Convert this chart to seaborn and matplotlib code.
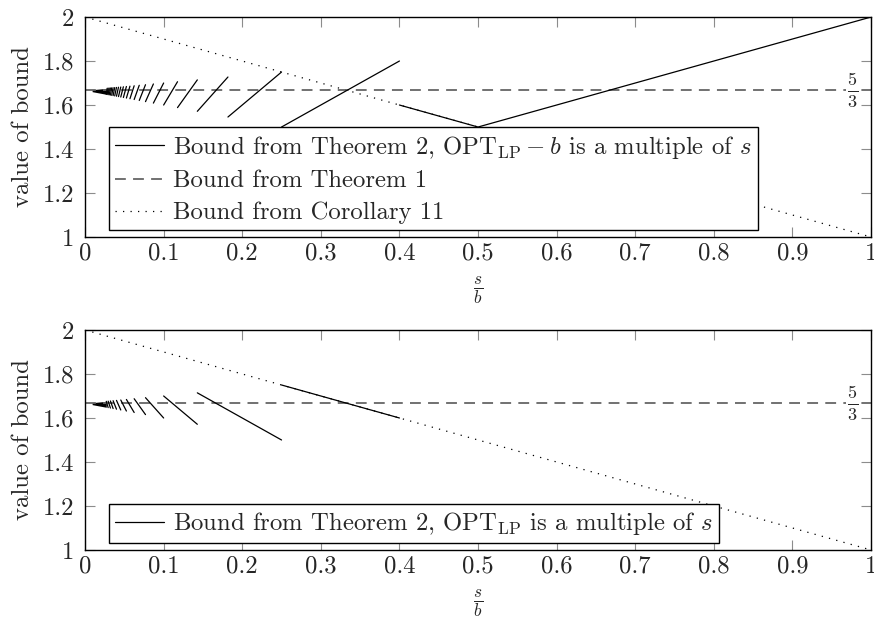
import matplotlib
matplotlib.use('Agg')
import matplotlib.pyplot as plt
import seaborn as sns
import pandas as pd
from matplotlib.lines import Line2D
from matplotlib.ticker import FixedLocator, FixedFormatter

# 軸の目盛り
x_ticks = [0, 0.1, 0.2, 0.3, 0.4, 0.5, 0.6, 0.7, 0.8, 0.9, 1]
x_tick_labels = ['0', '0.1', '0.2', '0.3', '0.4', '0.5', '0.6', '0.7', '0.8', '0.9', '1']
y_ticks = [1, 1.2, 1.4, 1.6, 1.8, 2]
y_tick_labels = ['1', '1.2', '1.4', '1.6', '1.8', '2']

# Theorem 1 (水平線) と Corollary 11 (対角線)
thm1_x = [0, 1]
thm1_y = [1.6667, 1.6667]
cor11_x = [0, 1]
cor11_y = [2, 1]

# 上段: OPT_LP - b が s の倍数
top_first_x = [0.4, 0.5, 1.0]
top_first_y = [1.6, 1.5, 2.0]
top_x_lo = [0.25, 0.18182, 0.14286, 0.11765, 0.1, 0.08696, 0.07692, 0.06897, 0.0625,
            0.05714, 0.05263, 0.04878, 0.04545, 0.04255, 0.04, 0.03774, 0.03571, 0.0339,
            0.03226, 0.03077, 0.02941, 0.02817, 0.02703]
top_x_hi = [0.4, 0.25, 0.18182, 0.14286, 0.11765, 0.1, 0.08696, 0.07692, 0.06897,
            0.0625, 0.05714, 0.05263, 0.04878, 0.04545, 0.04255, 0.04, 0.03774, 0.03571,
            0.0339, 0.03226, 0.03077, 0.02941, 0.02817]
top_y_lo = [1.5, 1.5455, 1.5714, 1.5882, 1.6, 1.6087, 1.6154, 1.6207, 1.625, 1.6286,
            1.6316, 1.6341, 1.6364, 1.6383, 1.64, 1.6415, 1.6429, 1.6441, 1.6452, 1.6462,
            1.6471, 1.6479, 1.6486]
top_y_hi = [1.8, 1.75, 1.7273, 1.7143, 1.7059, 1.7, 1.6957, 1.6923, 1.6897, 1.6875,
            1.6857, 1.6842, 1.6829, 1.6818, 1.6809, 1.68, 1.6792, 1.6786, 1.678, 1.6774,
            1.6769, 1.6765, 1.6761]

# 下段: OPT_LP が s の倍数
bot_x_lo = [0.25, 0.14286, 0.1, 0.07692, 0.0625, 0.05263, 0.04545, 0.04, 0.03571,
            0.03226, 0.02941, 0.02703]
bot_x_hi = [0.4, 0.25, 0.14286, 0.1, 0.07692, 0.0625, 0.05263, 0.04545, 0.04, 0.03571,
            0.03226, 0.02941]
bot_y_lo = [1.75, 1.7143, 1.7, 1.6923, 1.6875, 1.6842, 1.6818, 1.68, 1.6786, 1.6774,
            1.6765, 1.6757]
bot_y_hi = [1.6, 1.5, 1.5714, 1.6, 1.6154, 1.625, 1.6316, 1.6364, 1.64, 1.6429,
            1.6452, 1.6471]

# x -> 0 付近の密集部分 (くさび形)
wedge_x = [0.009, 0.027]
wedge_top = [1.6697, 1.6757]
wedge_bot = [1.6607, 1.6487]

label_top = r'Bound from Theorem 2, $\mathrm{OPT}_{\mathrm{LP}} - b$ is a multiple of $s$'
label_bot = r'Bound from Theorem 2, $\mathrm{OPT}_{\mathrm{LP}}$ is a multiple of $s$'

sns.set_theme(style='ticks')
plt.rcParams['font.family'] = 'serif'
plt.rcParams['font.serif'] = ['cmr10', 'DejaVu Serif']
plt.rcParams['mathtext.fontset'] = 'cm'
plt.rcParams['axes.formatter.use_mathtext'] = True

FS = 17.8
DASH = (0, (6, 4))
DOT = (0, (1, 5))


def segments_frame(x_lo, x_hi, y_lo, y_hi, first=None):
    rows = []
    if first is not None:
        for x, y in zip(*first):
            rows.append({'seg': -1, 'x': x, 'y': y})
    for i, (a, b, c, d) in enumerate(zip(x_lo, x_hi, y_lo, y_hi)):
        rows.append({'seg': i, 'x': a, 'y': c})
        rows.append({'seg': i, 'x': b, 'y': d})
    return pd.DataFrame(rows)


def draw_panel(ax, df, labels):
    sns.lineplot(x=cor11_x, y=cor11_y, ax=ax, color='black', lw=0.9,
                 linestyle=DOT, legend=False)
    sns.lineplot(x=thm1_x, y=thm1_y, ax=ax, color='0.4', lw=1.3,
                 linestyle=DASH, legend=False)
    sns.lineplot(data=df, x='x', y='y', units='seg', estimator=None, ax=ax,
                 color='black', lw=0.9, sort=False, legend=False)
    ax.fill_between(wedge_x, wedge_bot, wedge_top, color='black', lw=0)
    ax.text(0.977, thm1_y[0], r'$\frac{5}{3}$', ha='center', va='center',
            fontsize=FS * 1.05, bbox=dict(facecolor='white', edgecolor='none', pad=1))

    ax.set_xlim(0, 1)
    ax.set_ylim(1, 2)
    ax.xaxis.set_major_locator(FixedLocator(x_ticks))
    ax.xaxis.set_major_formatter(FixedFormatter(x_tick_labels))
    ax.yaxis.set_major_locator(FixedLocator(y_ticks))
    ax.yaxis.set_major_formatter(FixedFormatter(y_tick_labels))
    ax.tick_params(direction='in', top=True, right=True, length=7, width=0.8,
                   color='0.55', labelsize=FS)
    ax.tick_params(axis='x', pad=4)
    ax.tick_params(axis='y', pad=8)
    for sp in ax.spines.values():
        sp.set_color('black')
        sp.set_linewidth(1.0)
    ax.set_xlabel(r'$\frac{s}{b}$', fontsize=FS, labelpad=7)
    ax.set_ylabel('value of bound', fontsize=FS, labelpad=6)

    styles = [dict(color='black', lw=0.9),
              dict(color='0.4', lw=1.3, linestyle=DASH),
              dict(color='black', lw=0.9, linestyle=DOT)]
    handles = [Line2D([], [], **styles[i]) for i in range(len(labels))]
    leg = ax.legend(handles, labels, loc='lower left', bbox_to_anchor=(0.03, 0.03),
                    fontsize=FS, frameon=True, fancybox=False, framealpha=1,
                    edgecolor='black', handlelength=2.0, handletextpad=0.35,
                    labelspacing=0.38, borderpad=0.25, borderaxespad=0)
    leg.get_frame().set_linewidth(1.0)


fig = plt.figure(figsize=(8.74, 6.19), dpi=100)
ax_top = fig.add_axes([0.0973, 0.6171, 0.8993, 0.3554])
ax_bot = fig.add_axes([0.0973, 0.1115, 0.8993, 0.3554])

df_top = segments_frame(top_x_lo, top_x_hi, top_y_lo, top_y_hi,
                        first=(top_first_x, top_first_y))
df_bot = segments_frame(bot_x_lo, bot_x_hi, bot_y_lo, bot_y_hi)

draw_panel(ax_top, df_top, [label_top, 'Bound from Theorem 1', 'Bound from Corollary 11'])
draw_panel(ax_bot, df_bot, [label_bot])

fig.savefig('out.png', dpi=100)
